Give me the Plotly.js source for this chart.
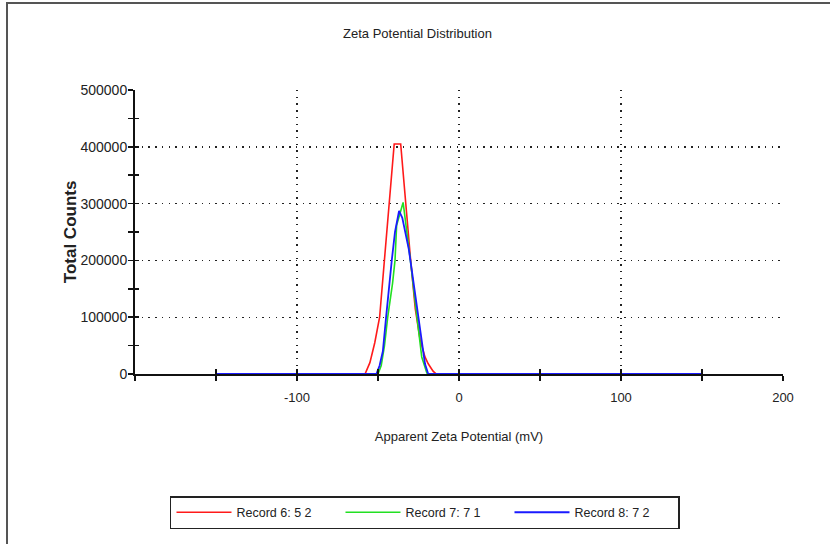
<!DOCTYPE html>
<html>
<head>
<meta charset="utf-8">
<script src="https://cdn.plot.ly/plotly-3.0.1.min.js"></script>
<style>
  html, body { margin: 0; padding: 0; background: #fff; }
  #chart { position: absolute; left: 0; top: 0; width: 830px; height: 544px; }
  #frame { position: absolute; left: 6px; top: 2px; width: 900px; height: 600px;
           border-top: 2px solid #555; border-left: 2px solid #555; pointer-events: none; }
</style>
</head>
<body>
<div id="chart"></div>
<div id="frame"></div>
<script>
// ---- data ----
const seriesNames = ["Record 6: 5 2", "Record 7: 7 1", "Record 8: 7 2"];

const redX = [-150, -58, -55, -52, -49, -46, -43, -40, -36, -33, -30, -27, -24, -21, -19, -16, -14, 150];
const redY = [0, 0, 20000, 55000, 100000, 200000, 300000, 405000, 405000, 300000, 205000, 115000, 60000, 30000, 18000, 5000, 0, 0];

const greenX = [-150, -50, -48, -46, -44, -41, -39.5, -38.5, -34.5, -33, -30, -28, -26, -23, -20, -19.5, 150];
const greenY = [0, 0, 15000, 50000, 100000, 160000, 200000, 262000, 302000, 270000, 200000, 150000, 100000, 30000, 3000, 0, 0];

const blueX = [-150, -51, -49, -47, -45, -43, -41.5, -39.5, -37, -35, -33, -31, -30, -27, -25, -23, -21, -19, 150];
const blueY = [0, 0, 15000, 40000, 100000, 160000, 200000, 250000, 287000, 275000, 250000, 220000, 200000, 140000, 100000, 55000, 18000, 0, 0];

const seriesColors = ["#ff1a1a", "#22e022", "#1a1aff"];

const xTickVals = [-100, 0, 100, 200];
const yTickVals = [0, 100000, 200000, 300000, 400000, 500000];

const chartTitle = "Zeta Potential Distribution";
const xTitle = "Apparent Zeta Potential (mV)";
const yTitle = "Total Counts";

// ---- chart ----
const FONT = "Liberation Sans, Arial, sans-serif";

const traces = [
  { x: redX, y: redY, name: seriesNames[0], type: "scatter", mode: "lines",
    line: { color: seriesColors[0], width: 1.6 } },
  { x: greenX, y: greenY, name: seriesNames[1], type: "scatter", mode: "lines",
    line: { color: seriesColors[1], width: 1.6 } },
  { x: blueX, y: blueY, name: seriesNames[2], type: "scatter", mode: "lines",
    line: { color: seriesColors[2], width: 1.8 } },
  // empty trace so the overlay axes (inner half of crossing ticks) get drawn
  { x: [], y: [], xaxis: "x2", yaxis: "y2", showlegend: false, hoverinfo: "skip",
    type: "scatter", mode: "lines" }
];

const gridStyle = { gridcolor: "#222", gridwidth: 1.4, griddash: "1.4px,5.3px" };

const layout = {
  width: 830, height: 544,
  paper_bgcolor: "#fff", plot_bgcolor: "#fff",
  margin: { l: 135, r: 47, t: 90, b: 170 },
  font: { family: FONT, color: "#222", size: 13 },
  title: { text: chartTitle, x: 0.503, xanchor: "center",
           y: 0.939, yanchor: "middle", yref: "container",
           font: { family: FONT, size: 13, color: "#222" } },
  showlegend: true,
  legend: {
    orientation: "h", x: 0.054, xanchor: "left", y: -0.43, yanchor: "top",
    bordercolor: "#222", borderwidth: 1.5, bgcolor: "#fff",
    font: { family: FONT, size: 12.5, color: "#222" },
    itemwidth: 55, entrywidth: 99, traceorder: "normal"
  },
  annotations: [
    { text: "<b>" + yTitle + "</b>", xref: "paper", yref: "paper",
      x: -0.1, y: 0.5, xanchor: "center", yanchor: "middle",
      textangle: -90, showarrow: false,
      font: { family: FONT, size: 17, color: "#222" } }
  ],
  xaxis: {
    range: [-200, 200], tickvals: xTickVals, ticktext: xTickVals.map(String),
    showline: true, linecolor: "#111", linewidth: 2, layer: "below traces",
    ticks: "outside", ticklen: 5, tickwidth: 1.5, tickcolor: "#111",
    ticklabelstandoff: 5,
    minor: { dtick: 50, tick0: 0, ticks: "outside", ticklen: 5, tickwidth: 1.5, tickcolor: "#111", showgrid: false },
    showgrid: true, ...gridStyle, zeroline: false,
    tickfont: { family: FONT, size: 13, color: "#222" },
    title: { text: xTitle, standoff: 28,
             font: { family: FONT, size: 13, color: "#222" } },
    fixedrange: true
  },
  yaxis: {
    range: [0, 500000], tickvals: yTickVals, ticktext: yTickVals.map(String),
    showline: true, linecolor: "#111", linewidth: 2, layer: "below traces",
    ticks: "outside", ticklen: 5, tickwidth: 1.5, tickcolor: "#111",
    ticklabelstandoff: -2,
    minor: { dtick: 50000, tick0: 0, ticks: "outside", ticklen: 5, tickwidth: 1.5, tickcolor: "#111", showgrid: false },
    showgrid: true, ...gridStyle, zeroline: false,
    tickfont: { family: FONT, size: 14, color: "#222" },
    fixedrange: true
  },
  xaxis2: {
    overlaying: "x", anchor: "y", side: "bottom", range: [-200, 200],
    tickvals: [-200, -100, 0, 100, 200], showticklabels: false,
    ticks: "inside", ticklen: 5, tickwidth: 1.5, tickcolor: "#111",
    minor: { dtick: 50, tick0: 0, ticks: "inside", ticklen: 5, tickwidth: 1.5, tickcolor: "#111", showgrid: false },
    showgrid: false, showline: false, zeroline: false, layer: "above traces", fixedrange: true
  },
  yaxis2: {
    overlaying: "y", anchor: "x", side: "left", range: [0, 500000],
    tickvals: yTickVals, showticklabels: false,
    ticks: "inside", ticklen: 4, tickwidth: 1.5, tickcolor: "#111",
    minor: { dtick: 50000, tick0: 0, ticks: "inside", ticklen: 4, tickwidth: 1.5, tickcolor: "#111", showgrid: false },
    showgrid: false, showline: false, zeroline: false, layer: "above traces", fixedrange: true
  }
};

Plotly.newPlot("chart", traces, layout, { staticPlot: true, displayModeBar: false });
</script>
</body>
</html>
